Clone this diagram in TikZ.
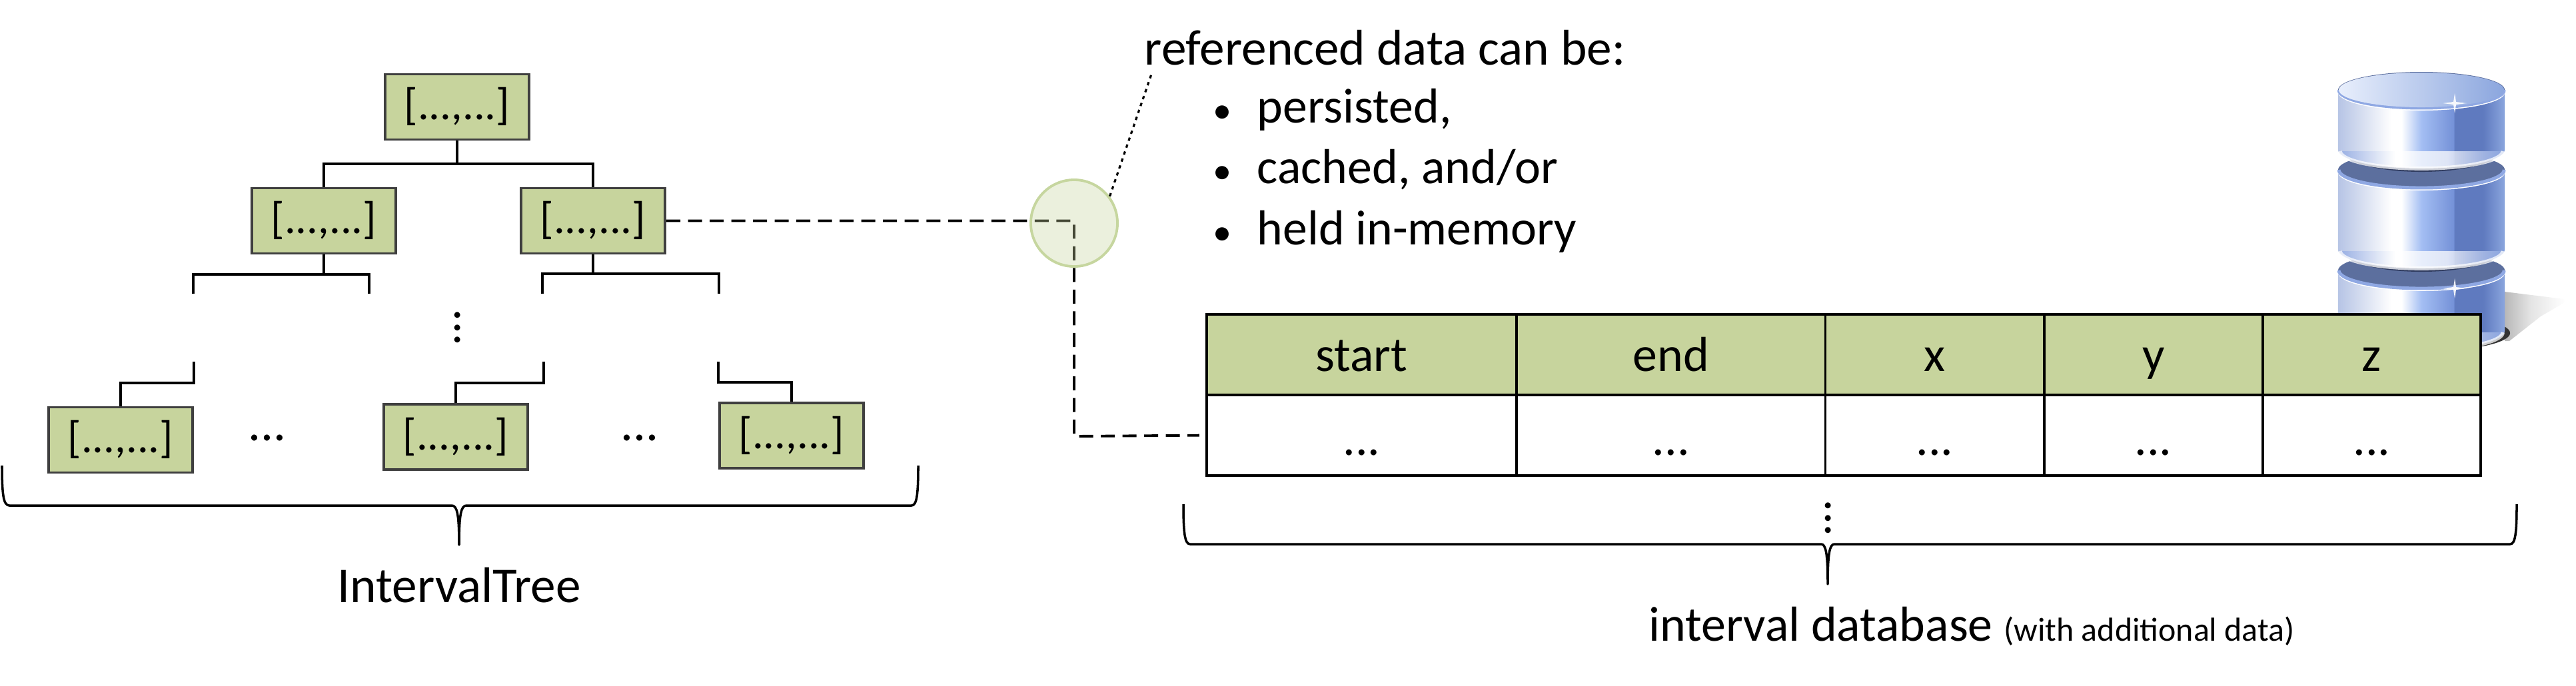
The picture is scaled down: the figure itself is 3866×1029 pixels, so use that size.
\documentclass[tikz,border=0pt]{standalone}
\usepackage{fontspec}
\setmainfont{Carlito}
\usepackage{xcolor}
\usetikzlibrary{positioning, calc}

\definecolor{boxgreen}{HTML}{C7D49D}
\definecolor{boxedge}{HTML}{3F3F3F}
\definecolor{ringgreen}{HTML}{C6D69F}
\definecolor{dbA}{HTML}{B6C4E5}
\definecolor{dbB}{HTML}{D5DDF0}
\definecolor{dbC}{HTML}{FFFFFF}
\definecolor{dbD}{HTML}{A4BEF3}
\definecolor{dbE}{HTML}{7592D8}
\definecolor{dbF}{HTML}{5F7ABF}
\definecolor{dbG}{HTML}{8BA6DE}
\definecolor{dbrim}{HTML}{5C6F9E}
\definecolor{dbgroove}{HTML}{303C60}
\definecolor{dbline}{HTML}{8FA8E3}
\definecolor{shadeA}{HTML}{B8B8B8}
\definecolor{shadeB}{HTML}{E4E4E4}

\pgfdeclarehorizontalshading{dbbody}{100bp}{
  color(0bp)=(dbA); color(25bp)=(dbA); color(32bp)=(dbB); color(41bp)=(dbC);
  color(44bp)=(dbC); color(50bp)=(dbD); color(59.6bp)=(dbE); color(60bp)=(dbF);
  color(68.5bp)=(dbF); color(75bp)=(dbG); color(100bp)=(dbG)}
\pgfdeclarehorizontalshading{dblip}{100bp}{
  color(0bp)=(dbline); color(25bp)=(dbline); color(42bp)=(dbC); color(58bp)=(dbC);
  color(75bp)=(dbline); color(100bp)=(dbline)}
\pgfdeclarehorizontalshading{dbcast}{100bp}{
  color(0bp)=(shadeA); color(25bp)=(shadeA); color(45bp)=(shadeB); color(72bp)=(dbC);
  color(100bp)=(dbC)}

% one disc of the database: top of the body, bottom of the body
\newcommand{\dbdisc}[2]{
  \fill[dbrim] (3634,#1) ellipse[x radius=1.25cm, y radius=0.27cm];
  \draw[dbline, line width=1.4pt] (3510,#1) arc[start angle=180, end angle=360, x radius=1.24cm, y radius=0.27cm];
  \shade[shading=dbbody] (3509,#1+4) arc[start angle=180, end angle=360, x radius=1.25cm, y radius=0.27cm]
    -- (3759,#2) arc[start angle=360, end angle=180, x radius=1.25cm, y radius=0.27cm] -- cycle;
  \draw[dblipline] (3512,#2+2) arc[start angle=180, end angle=360, x radius=1.22cm, y radius=0.26cm];
}
\newcommand{\dbgroove}[1]{
  \fill[dbgroove] (3516,#1) arc[start angle=180, end angle=360, x radius=1.18cm, y radius=0.32cm]
    arc[start angle=0, end angle=-180, x radius=1.18cm, y radius=0.05cm] -- cycle;
}
\newcommand{\dbspark}[2]{
  \fill[white, opacity=0.9] (#1-18,#2) -- (#1-2,#2-2) -- (#1,#2-15) -- (#1+2,#2-2) -- (#1+18,#2)
    -- (#1+2,#2+2) -- (#1,#2+15) -- (#1-2,#2+2) -- cycle;
}
\newcommand{\notebullet}{\llap{{\fontsize{16}{20}\selectfont\textbullet}\hspace{0.38cm}}}

\begin{document}
\begin{tikzpicture}[
      x=0.01cm, y=-0.01cm,
      treebox/.style={
          draw=boxedge, rectangle, fill=boxgreen, line width=1.1pt,
          minimum width=2.16cm, minimum height=0.98cm, inner sep=0pt,
          text height=0.45cm, text depth=0.07cm,
          font=\fontsize{19}{22}\selectfont
        },
      cellhead/.style={
          draw=black, rectangle, fill=boxgreen, line width=1.1pt,
          minimum height=1.21cm, inner sep=0pt, outer sep=0pt,
          text height=0.55cm, text depth=0.05cm,
          font=\fontsize{21}{25}\selectfont
        },
      cellbody/.style={
          cellhead, fill=white, text height=0.65cm
        },
      bodytext/.style={
          inner sep=0pt, anchor=base west,
          font=\fontsize{21}{25}\selectfont
        },
      caption/.style={
          inner sep=0pt, anchor=base,
          font=\fontsize{21.4}{25}\selectfont
        },
      dotsep/.style={
          inner sep=0pt, font=\fontsize{20.8}{25}\selectfont
        },
      link/.style={line width=1pt, color=black},
      refline/.style={line width=1.1pt, dash pattern=on 0.21cm off 0.115cm},
      dotline/.style={line width=0.9pt, dash pattern=on 0.05cm off 0.06cm},
      curly/.style={line width=1pt, line join=round},
      dblipline/.style={line width=1.6pt, shading=dblip, color=white, opacity=0.75}
    ]
    \useasboundingbox (0,0) rectangle (3866,1029);

    % ── Database drum (behind the table) ──
    \shade[shading=dbcast]
    (3759,438) -- (3856,450) -- (3813,475) -- (3766,512) -- (3759,512) -- cycle;
    \fill[black!80] (3640,500) ellipse[x radius=1.27cm, y radius=0.27cm];
    \dbdisc{406}{497}
    \dbgroove{376}
    \dbdisc{255}{375}
    \dbgroove{226}
    \dbdisc{135}{225}
    \shade[left color=dbC!75!dbD, right color=dbG] (3634,135) ellipse[x radius=1.24cm, y radius=0.26cm];
    \dbspark{3684}{155}
    \dbspark{3684}{433}

    % ── IntervalTree ──
    \node[treebox] (root)  at (686,160.5) {[...,...]};
    \node[treebox] (lone)  at (486,331.5) {[...,...]};
    \node[treebox] (ltwo)  at (890,331.5) {[...,...]};
    \node[treebox] (leafa) at (181,660.5) {[...,...]};
    \node[treebox] (leafb) at (684,656)   {[...,...]};
    \node[treebox] (leafc) at (1188,654)  {[...,...]};

    \coordinate (rootbus) at (686,246);
    \coordinate (busa)  at (486,412);
    \coordinate (busb)  at (890,411);
    \coordinate (stuba) at (290,441);
    \coordinate (stubb) at (554,441);
    \coordinate (stubc) at (814,441);
    \coordinate (stubd) at (1079,441);
    \coordinate (stube) at (291,543);
    \coordinate (stubf) at (816,543);
    \coordinate (stubg) at (1078,543);

    \draw[link] (root) -- (rootbus);
    \draw[link] (lone.north) |- (rootbus);
    \draw[link] (ltwo.north) |- (rootbus);
    \draw[link] (lone) -- (busa);
    \draw[link] (stuba) |- (busa);
    \draw[link] (stubb) |- (busa);
    \draw[link] (ltwo) -- (busb);
    \draw[link] (stubc) |- (busb);
    \draw[link] (stubd) |- (busb);
    \draw[link] (stube) -- ++(0,32) -| (leafa.north);
    \draw[link] (stubf) -- ++(0,32) -| (leafb.north);
    \draw[link] (stubg) -- ++(0,31) -| (leafc.north);

    \node[dotsep, rotate=90] (treedots) at (687,492) {...};
    \node[caption] (leafdotsa) at (401,661) {...};
    \node[caption] (leafdotsb) at (960,661) {...};

    \draw[curly] (3,699) .. controls (3,742) and (5,759) .. (14,759) -- (678,759)
    .. controls (686,759) and (689,772) .. (689,818)
    .. controls (689,772) and (692,759) .. (700,759) -- (1368,759)
    .. controls (1376,759) and (1378,742) .. (1378,699);
    \node[caption] (treelab) at (689,904) {IntervalTree};

    % ── Table ──
    \node[cellhead, minimum width=4.65cm] (hstart) at (2043.5,532.5) {start};
    \node[cellhead, minimum width=4.63cm, right=0pt of hstart] (hend) {end};
    \node[cellhead, minimum width=3.28cm, right=0pt of hend] (hx) {x};
    \node[cellhead, minimum width=3.28cm, right=0pt of hx] (hy) {y};
    \node[cellhead, minimum width=3.27cm, right=0pt of hy] (hz) {z};

    \node[cellbody, minimum width=4.65cm, below=0pt of hstart] (rstart) {...};
    \node[cellbody, minimum width=4.63cm, below=0pt of hend] (rend) {...};
    \node[cellbody, minimum width=3.28cm, below=0pt of hx] (rx) {...};
    \node[cellbody, minimum width=3.28cm, below=0pt of hy] (ry) {...};
    \node[cellbody, minimum width=3.27cm, below=0pt of hz] (rz) {...};

    \node[dotsep, rotate=90] (tabledots) at (2744,778) {...};

    \draw[curly] (1776,757) .. controls (1776,800) and (1778,817) .. (1786,817) -- (2733,817)
    .. controls (2740,817) and (2743,830) .. (2743,877)
    .. controls (2743,830) and (2746,817) .. (2753,817) -- (3767,817)
    .. controls (3775,817) and (3777,800) .. (3777,757);
    \node[bodytext] (dblab) at (2474,962) {interval database {\fontsize{14.2}{16}\selectfont (with additional data)}};

    % ── Reference from the tree into the table ──
    \coordinate (kink) at (1612,655);
    \draw[refline, shorten >=0.11cm] (ltwo.east) -| (kink) -- (rstart.west);
    \node[circle, draw=ringgreen, line width=1.1pt, fill=boxgreen, fill opacity=0.35,
      minimum size=1.3cm, inner sep=0pt] (ring) at (1612,335) {};

    % ── Note ──
    \node[bodytext, font=\fontsize{21.4}{25}\selectfont] (note) at (1717,97) {referenced data can be:};
    \node[bodytext] (bpers) at (1886,184) {\notebullet persisted,};
    \node[bodytext] (bcach) at (1886,275) {\notebullet cached, and/or};
    \node[bodytext] (bheld) at (1886,367) {\notebullet held in-memory};

    \draw[dotline] (ring.37) -- ([xshift=0.11cm, yshift=-0.13cm]note.south west);

  \end{tikzpicture}
\end{document}
